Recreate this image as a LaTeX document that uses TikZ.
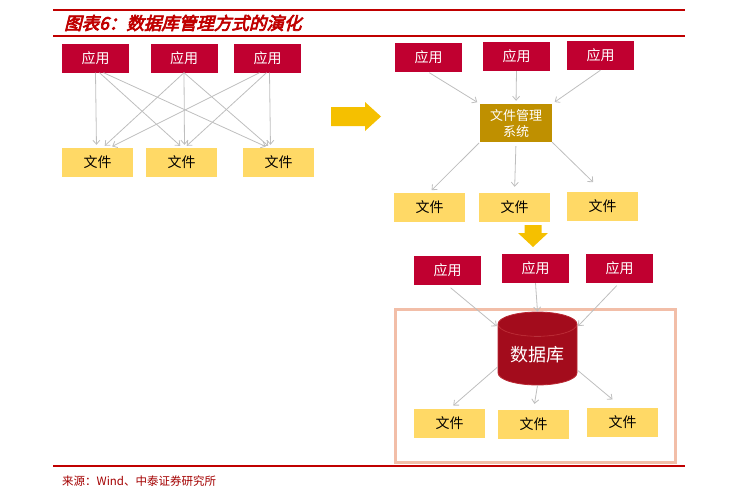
\documentclass[tikz,border=0pt]{standalone}
\usepackage{fontspec}
\newfontfamily\cjk{Noto Sans CJK SC}
\newfontfamily\cjktitle[FakeSlant=0.25,FakeBold=4]{Noto Sans CJK SC}
\usetikzlibrary{shapes.geometric,arrows.meta}
\definecolor{titlered}{RGB}{192,0,0}
\definecolor{appred}{RGB}{192,0,48}
\definecolor{fileyellow}{RGB}{255,217,102}
\definecolor{fmsgold}{RGB}{191,144,0}
\definecolor{arrowyellow}{RGB}{245,192,0}
\definecolor{dbred}{RGB}{163,12,28}
\definecolor{frameorange}{RGB}{242,190,168}
\definecolor{linkgray}{RGB}{190,190,190}
\tikzset{
  app/.style={fill=appred,text=white,minimum width=67pt,minimum height=29pt,inner sep=0pt,font=\cjk\fontsize{14}{14}\selectfont},
  file/.style={fill=fileyellow,text=black,minimum width=71pt,minimum height=29pt,inner sep=0pt,font=\cjk\fontsize{14}{14}\selectfont},
  link/.style={draw=linkgray,->,line width=0.8pt,shorten >=3pt}
}
\begin{document}
\begin{tikzpicture}[x=1pt,y=-1pt,>={Straight Barb[length=4pt,width=7pt]}]
\useasboundingbox (0,0) rectangle (741,493);
\draw[titlered,line width=2.5pt] (53,10)--(685,10);
\draw[titlered,line width=1.2pt] (53,36)--(685,36);
\draw[titlered,line width=1.5pt] (53,466)--(685,466);
\node[anchor=west,text=titlered,font=\cjktitle\fontsize{17.5}{17.5}\selectfont,inner sep=0pt] (title) at (64,23) {图表6：数据库管理方式的演化};
\node[anchor=west,text=titlered!85!black,font=\cjk\fontsize{11.5}{11.5}\selectfont,inner sep=0pt] (source) at (62,481) {来源：Wind、中泰证券研究所};
% left
\node[app] (a1) at (95.5,58) {应用};
\node[app] (a2) at (184,58) {应用};
\node[app] (a3) at (267.5,58) {应用};
\node[file] (f1) at (97.5,162.5) {文件};
\node[file] (f2) at (181.5,162.5) {文件};
\node[file] (f3) at (278.5,162.5) {文件};
\draw[link] (a1.south)--([xshift=-1pt]f1.north);
\draw[link] ([xshift=4pt]a1.south)--([xshift=1pt]f2.north);
\draw[link] ([xshift=8pt]a1.south)--([xshift=-10pt]f3.north);
\draw[link] (a2.south)--([xshift=5pt]f1.north);
\draw[link] (a2.south)--([xshift=3pt]f2.north);
\draw[link] (a2.south)--([xshift=-8pt]f3.north);
\draw[link] ([xshift=-8pt]a3.south)--([xshift=12pt]f1.north);
\draw[link] ([xshift=-1pt]a3.south)--([xshift=3pt]f2.north);
\draw[link] ([xshift=2pt]a3.south)--([xshift=-8pt]f3.north);
\fill[arrowyellow] (331,107)--(365,107)--(365,102)--(381,116.5)--(365,131)--(365,126)--(331,126)--cycle;
% file system
\node[app] (r1) at (428.5,57.5) {应用};
\node[app] (r2) at (516.5,56.5) {应用};
\node[app] (r3) at (600.5,55.5) {应用};
\node[fill=fmsgold,text=white,minimum width=72pt,minimum height=38pt,inner sep=0pt,align=center,font=\cjk\fontsize{13}{16}\selectfont] (fms) at (516,123) {文件管理\\系统};
\node[file] (rf1) at (429.5,207) {文件};
\node[file] (rf2) at (514.5,207.5) {文件};
\node[file] (rf3) at (602.5,206) {文件};
\draw[link,shorten <=1pt] (r1.south)--(fms.north west);
\draw[link] (r2.south)--(fms.north);
\draw[link] (r3.south)--(fms.north east);
\draw[link,shorten <=1pt] (fms.south west)--(rf1.north);
\draw[link,shorten <=4pt,shorten >=6pt] (fms.south)--(rf2.north);
\draw[link,shorten >=13pt] (fms.south east)--(rf3.north);
\fill[arrowyellow] (524.5,225)--(541.5,225)--(541.5,233)--(548,233)--(533,247)--(518,233)--(524.5,233)--cycle;
% database
\draw[frameorange,line width=3pt] (395,309) rectangle (675,462);
\node[app] (b1) at (447.5,270.5) {应用};
\node[app] (b2) at (535.5,268.5) {应用};
\node[app] (b3) at (619.5,268) {应用};
\node[cylinder,shape border rotate=90,aspect=0.45,minimum height=73pt,minimum width=79pt,inner sep=0pt,anchor=shape center,
  draw={rgb,255:red,185;green,40;blue,50},line width=0.8pt,cylinder uses custom fill,cylinder body fill=dbred,cylinder end fill=dbred,
  text=white,font=\cjk\fontsize{18}{18}\selectfont] (db) at (537.5,348.5) {数据库};
\node[file] (c1) at (449.5,423.5) {文件};
\node[file] (c2) at (533.5,424.5) {文件};
\node[file] (c3) at (622.5,422.5) {文件};
\draw[link,shorten <=4pt,shorten >=1pt] (b1.south)--(db.145);
\draw[link,shorten >=0pt] (b2.south)--(db.north);
\draw[link,shorten <=4pt,shorten >=1pt] (b3.south)--(db.35);
\draw[link,shorten >=5pt] (db.197)--(c1.north);
\draw[link,shorten >=6pt] (db.south)--(c2.north);
\draw[link,shorten <=1pt,shorten >=13pt] (db.339)--(c3.north);
\end{tikzpicture}
\end{document}
